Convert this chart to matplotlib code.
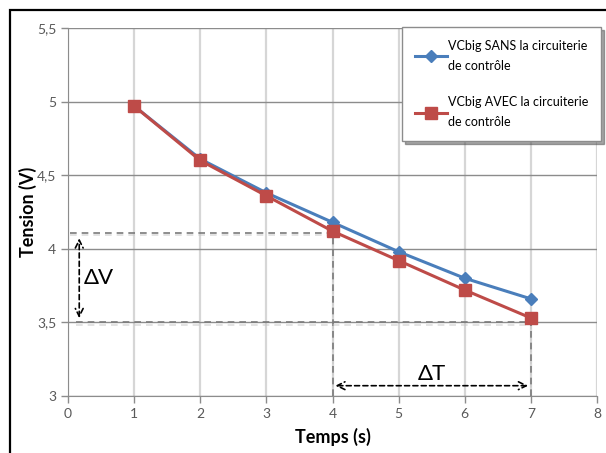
import matplotlib
matplotlib.use("Agg")
import matplotlib.pyplot as plt
import matplotlib.patheffects as pe
from matplotlib.patches import Rectangle

# data
temps = [1, 2, 3, 4, 5, 6, 7]
v_sans = [4.97, 4.61, 4.38, 4.18, 3.98, 3.80, 3.66]
v_avec = [4.97, 4.60, 4.36, 4.12, 3.92, 3.72, 3.53]
label_sans = "VCbig SANS la circuiterie\nde contrôle"
label_avec = "VCbig AVEC la circuiterie\nde contrôle"
x_ticks = [0, 1, 2, 3, 4, 5, 6, 7, 8]
y_ticks = [3, 3.5, 4, 4.5, 5, 5.5]
y_tick_labels = ["3", "3,5", "4", "4,5", "5", "5,5"]

# guide construction (delta V / delta T)
t_a, t_b = 4, 7
v_a, v_b = 4.11, 3.50
x_dv = 0.17
y_dt = 3.07

plt.rcParams["font.family"] = ["Lato", "DejaVu Sans"]

fig = plt.figure(figsize=(6.06, 4.53), dpi=100)
ax = fig.add_axes([68 / 606, 57 / 453, 529 / 606, 368 / 453])

ax.set_xlim(0, 8)
ax.set_ylim(3, 5.5)
ax.set_xticks(x_ticks)
ax.set_yticks(y_ticks)
ax.set_yticklabels(y_tick_labels)
ax.tick_params(colors="#8c8c8c", labelcolor="#595959", labelsize=10,
               length=5, width=1)
ax.xaxis.grid(True, color="#d6d6d6", lw=1.6)
ax.yaxis.grid(True, color="#8c8c8c", lw=1.0)
ax.set_axisbelow(True)
for side in ("top", "right"):
    ax.spines[side].set_visible(False)
for side in ("left", "bottom"):
    ax.spines[side].set_color("#8c8c8c")

shadow = [pe.SimpleLineShadow(offset=(0, -2), shadow_color="#c8c8c8",
                              alpha=0.6), pe.Normal()]
guide = dict(color="#7a7a7a", lw=1.2, ls=(0, (4, 3)), path_effects=shadow,
             zorder=2)
ax.plot([0.03, t_a], [v_a, v_a], **guide)
ax.plot([t_a, t_a], [3, v_a], **guide)
ax.plot([0.12, t_b], [v_b, v_b], **guide)
ax.plot([t_b, t_b], [3, v_b], **guide)

ax.plot(temps, v_sans, color="#4a7ebb", lw=2.2, marker="D", ms=6.5,
        label=label_sans, zorder=4)
ax.plot(temps, v_avec, color="#be4b48", lw=2.2, marker="s", ms=8,
        label=label_avec, zorder=5)

arrow = dict(arrowstyle="<->", color="black", lw=1.2, ls=(0, (3, 2)),
             mutation_scale=14)
ax.annotate("", xy=(x_dv, v_a - 0.02), xytext=(x_dv, v_b + 0.01),
            arrowprops=arrow)
ax.annotate("", xy=(t_a, y_dt), xytext=(t_b, y_dt), arrowprops=arrow)
ax.text(0.24, 3.80, "ΔV", fontsize=16, va="center", ha="left")
ax.text(5.5, 3.15, "ΔT", fontsize=16, va="center", ha="center")

ax.set_xlabel("Temps (s)", fontsize=13, fontweight="bold", labelpad=6)
ax.set_ylabel("Tension (V)", fontsize=13, fontweight="bold", labelpad=0)

leg = fig.legend(loc="upper left", bbox_to_anchor=(402 / 606, 1 - 27 / 453),
                 fontsize=9, frameon=True, fancybox=False, shadow=True,
                 edgecolor="#8c8c8c", handlelength=2.6, labelspacing=2.0,
                 borderpad=1.0, handletextpad=0.1, borderaxespad=0,
                 framealpha=1)
for txt in leg.get_texts():
    txt.set_linespacing(1.8)

fig.add_artist(Rectangle((10 / 606, -0.1), 1, 1 - 10 / 453 + 0.1,
                         transform=fig.transFigure, fill=False,
                         edgecolor="black", lw=1.6))

fig.savefig("out.png", dpi=100, facecolor="white")
